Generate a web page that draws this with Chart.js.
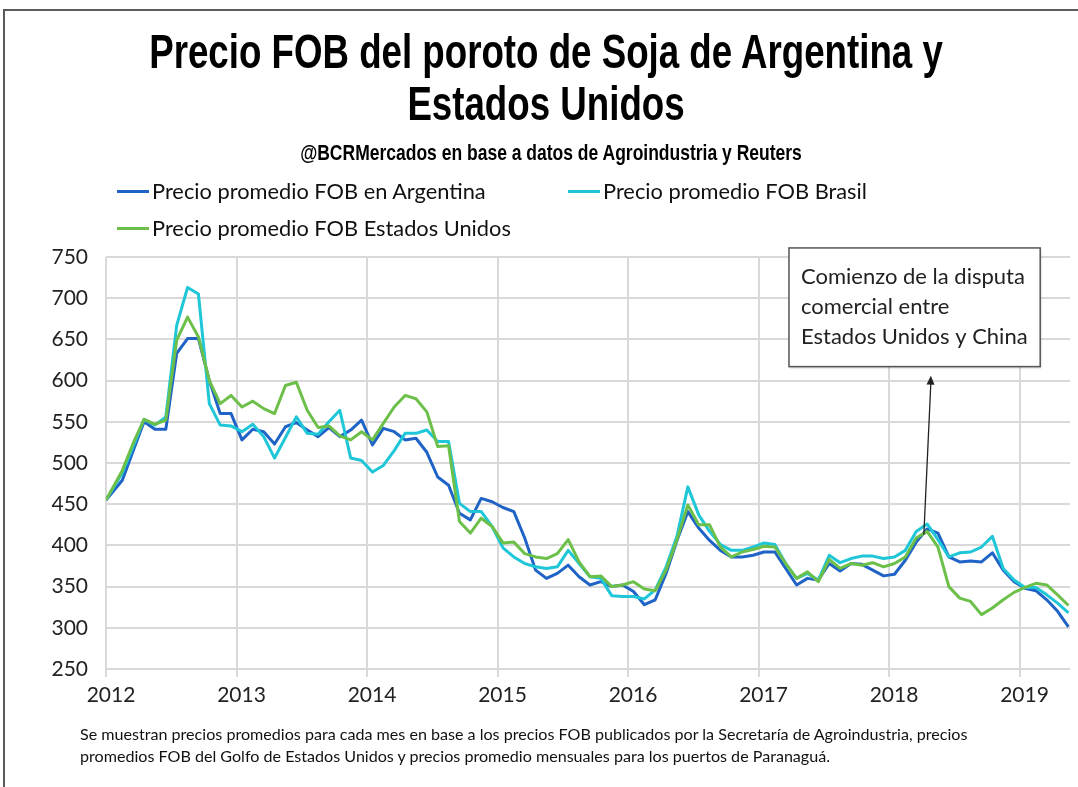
<!DOCTYPE html>
<html>
<head>
<meta charset="utf-8">
<script src="https://cdn.jsdelivr.net/npm/chart.js@4.4.1/dist/chart.umd.min.js"></script>
<style>
  body { margin: 0; background: #fff; }
  #wrap { position: relative; width: 1078px; height: 787px; overflow: hidden; background: #fff; }
  #frame { position: absolute; left: 3px; top: 9px; width: 1100px; height: 800px; border-left: 2px solid #5a5a5a; border-top: 2px solid #5a5a5a; }
  canvas { position: absolute; left: 0; top: 0; }
  .t { position: absolute; color: #000; white-space: nowrap; }
  #titulo { left: 0; width: 1092px; top: 26px; text-align: center; font: bold 36.7px 'Liberation Sans Narrow', sans-serif; line-height: 40px; transform: scaleY(1.3); transform-origin: top; }
  #sub { left: 0; width: 1102px; top: 140px; text-align: center; font: bold 17.5px 'Liberation Sans Narrow', sans-serif; line-height: 20px; transform: scaleY(1.25); transform-origin: top; }
  .leg { position: absolute; font: 21.8px Lato, sans-serif; line-height: 26px; color: #111; white-space: nowrap; }
  .leg i { position: absolute; left: -35px; top: 12px; width: 32px; height: 3px; }
  #nota { left: 80px; top: 723px; font: 16.1px Lato, sans-serif; line-height: 22px; color: #111; }
</style>
</head>
<body>
<div id="wrap">
  <canvas id="c" width="1078" height="787"></canvas>
  <div id="frame"></div>
  <div class="t" id="titulo">Precio FOB del poroto de Soja de Argentina y<br>Estados Unidos</div>
  <div class="t" id="sub">@BCRMercados en base a datos de Agroindustria y Reuters</div>
  <div class="leg" style="left:152px; top:178px;"><i style="background:#1f63c6"></i>Precio promedio FOB en Argentina</div>
  <div class="leg" style="left:603px; top:178px;"><i style="background:#1ec6d8"></i>Precio promedio FOB Brasil</div>
  <div class="leg" style="left:152px; top:215px;"><i style="background:#6cc04a"></i>Precio promedio FOB Estados Unidos</div>
  <div class="t" id="nota">Se muestran precios promedios para cada mes en base a los precios FOB publicados por la Secretaría de Agroindustria, precios<br>promedios FOB del Golfo de Estados Unidos y precios promedio mensuales para los puertos de Paranaguá.</div>
</div>
<script>
// meses desde ene-2012 hasta may-2019 (89 valores mensuales, USD/t)
const argentina = [455, 479, 515, 550, 541, 541, 633, 651, 651, 600, 560, 560,
  528, 541, 538, 523, 544, 549, 540, 532, 543, 532, 540, 552,
  522, 542, 538, 528, 530, 513, 483, 473, 439, 431, 457, 453,
  446, 441, 409, 370, 360, 366, 376, 362, 352, 356, 350, 352,
  344, 328, 334, 366, 406, 441, 421, 406, 394, 386, 386, 388,
  392, 392, 372, 352, 360, 358, 378, 369, 378, 377, 370, 363,
  365, 382, 404, 420, 415, 386, 380, 381, 380, 391, 370, 356,
  348, 345, 334, 320, 301];
const brasil = [455, 488, 520, 553, 546, 556, 667, 713, 705, 572, 546, 545,
  538, 547, 532, 506, 531, 556, 536, 535, 550, 564, 506, 503,
  489, 497, 515, 536, 536, 540, 526, 526, 451, 441, 441, 423,
  397, 386, 378, 374, 372, 374, 394, 378, 362, 360, 339, 338,
  338, 335, 346, 374, 411, 471, 437, 417, 401, 394, 394, 398,
  403, 401, 378, 360, 366, 358, 388, 379, 384, 387, 387, 384,
  386, 394, 417, 426, 407, 386, 391, 392, 398, 411, 372, 358,
  349, 349, 340, 330, 318];
const eeuu = [455, 491, 524, 553, 547, 552, 649, 677, 653, 600, 572, 582,
  568, 575, 566, 560, 594, 598, 564, 543, 545, 533, 528, 538,
  528, 548, 568, 582, 578, 562, 520, 521, 429, 415, 433, 423,
  403, 404, 390, 386, 384, 390, 407, 380, 362, 363, 350, 352,
  356, 347, 345, 370, 407, 449, 425, 425, 398, 386, 392, 395,
  399, 398, 378, 360, 368, 356, 383, 372, 378, 376, 379, 374,
  378, 386, 409, 417, 398, 350, 336, 332, 316, 324, 334, 343,
  349, 354, 352, 340, 327];
const anios = [2012, 2013, 2014, 2015, 2016, 2017, 2018, 2019];
const yTicks = [250, 300, 350, 400, 450, 500, 550, 600, 650, 700, 750];

// el primer dato cae sobre el eje, los demás a mitad de mes
function serie(vals) {
  return vals.map((v, i) => ({ x: i === 0 ? 0 : i + 0.5, y: v }));
}

const nota = {
  x0: 62.8, x1: 85.9, yTop: 761, yBot: 617,
  flechaDesde: { x: 75.2, y: 413 }, flechaHasta: { x: 75.85, y: 606 },
  lineas: ['Comienzo de la disputa', 'comercial entre', 'Estados Unidos y China']
};

const anotacion = {
  id: 'anotacion',
  afterDatasetsDraw(chart) {
    const ctx = chart.ctx, xs = chart.scales.x, ys = chart.scales.y;
    const ax = xs.getPixelForValue(nota.flechaDesde.x), ay = ys.getPixelForValue(nota.flechaDesde.y);
    const bx = xs.getPixelForValue(nota.flechaHasta.x), by = ys.getPixelForValue(nota.flechaHasta.y);
    ctx.save();
    ctx.strokeStyle = '#222';
    ctx.fillStyle = '#222';
    ctx.lineWidth = 1.3;
    ctx.beginPath(); ctx.moveTo(ax, ay); ctx.lineTo(bx, by + 6); ctx.stroke();
    const ang = Math.atan2(by - ay, bx - ax);
    ctx.beginPath();
    ctx.moveTo(bx, by);
    ctx.lineTo(bx - 9 * Math.cos(ang) + 4 * Math.sin(ang), by - 9 * Math.sin(ang) - 4 * Math.cos(ang));
    ctx.lineTo(bx - 9 * Math.cos(ang) - 4 * Math.sin(ang), by - 9 * Math.sin(ang) + 4 * Math.cos(ang));
    ctx.closePath(); ctx.fill();

    const l = xs.getPixelForValue(nota.x0), r = xs.getPixelForValue(nota.x1);
    const t = ys.getPixelForValue(nota.yTop), b = ys.getPixelForValue(nota.yBot);
    ctx.fillStyle = '#fff';
    ctx.shadowColor = 'rgba(0,0,0,0.25)';
    ctx.shadowOffsetX = 1; ctx.shadowOffsetY = 1; ctx.shadowBlur = 2;
    ctx.fillRect(l, t, r - l, b - t);
    ctx.shadowColor = 'transparent';
    ctx.strokeStyle = '#555';
    ctx.lineWidth = 1.5;
    ctx.strokeRect(l, t, r - l, b - t);
    ctx.fillStyle = '#222';
    ctx.font = '22px Lato, sans-serif';
    ctx.textBaseline = 'middle';
    nota.lineas.forEach((s, i) => ctx.fillText(s, l + 12, t + 29 + i * 30));
    ctx.restore();
  }
};

new Chart(document.getElementById('c'), {
  type: 'line',
  data: {
    datasets: [
      { label: 'Precio promedio FOB en Argentina', data: serie(argentina), borderColor: '#1f63c6', order: 2 },
      { label: 'Precio promedio FOB Brasil', data: serie(brasil), borderColor: '#1ec6d8', order: 1 },
      { label: 'Precio promedio FOB Estados Unidos', data: serie(eeuu), borderColor: '#6cc04a', order: 0 }
    ]
  },
  options: {
    responsive: false,
    animation: false,
    devicePixelRatio: 1,
    layout: { padding: { top: 257, right: 8, left: 0, bottom: 0 } },
    elements: {
      line: { borderWidth: 3, tension: 0, borderJoinStyle: 'round' },
      point: { radius: 0 }
    },
    plugins: { legend: { display: false }, tooltip: { enabled: false } },
    scales: {
      x: {
        type: 'linear', min: 0, max: 88.64,
        afterBuildTicks(s) { s.ticks = anios.map((a, i) => ({ value: i * 12 })); },
        afterFit(s) { s.height = 118; },
        grid: { color: '#d9d9d9', lineWidth: 2, tickLength: 8 },
        border: { display: false },
        ticks: {
          padding: 6, labelOffset: 5, maxRotation: 0, autoSkip: false,
          color: '#222', font: { family: 'Lato', size: 21 },
          callback: v => String(anios[v / 12])
        }
      },
      y: {
        min: 250, max: 750,
        afterBuildTicks(s) { s.ticks = yTicks.map(v => ({ value: v })); },
        afterFit(s) { s.width = 106; },
        grid: { color: '#d9d9d9', lineWidth: 2, drawTicks: false },
        border: { display: false },
        ticks: { padding: 18, color: '#222', font: { family: 'Lato', size: 21 } }
      }
    }
  },
  plugins: [anotacion]
});
</script>
</body>
</html>
